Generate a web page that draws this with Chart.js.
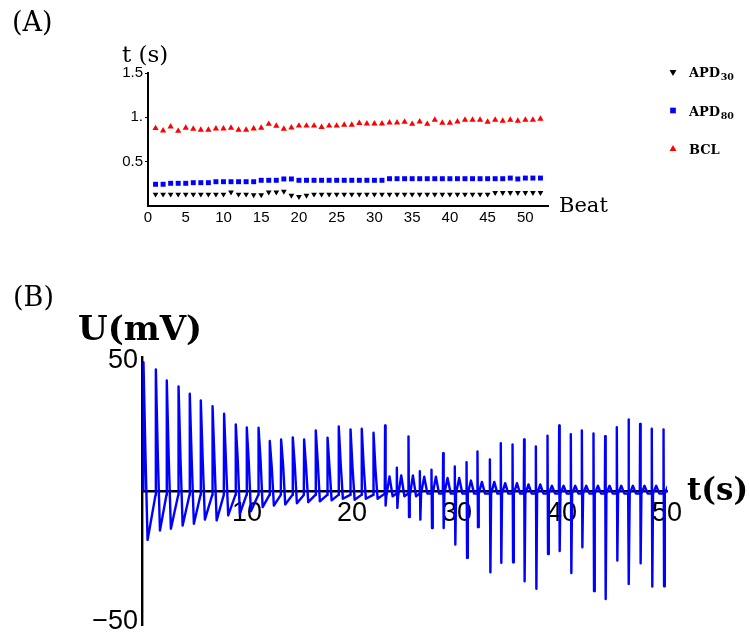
<!DOCTYPE html>
<html>
<head>
<meta charset="utf-8">
<script src="https://cdn.jsdelivr.net/npm/chart.js@4.4.1/dist/chart.umd.min.js"></script>
<style>
  body { margin: 0; background: #fff; overflow: hidden; }
  #wrap { position: relative; width: 750px; height: 639px; }
  #beatChart { position: absolute; left: 0; top: 0; }
  #traceChart { position: absolute; left: 0; top: 280px; }
</style>
</head>
<body>
<div id="wrap">
  <canvas id="beatChart" width="750" height="245"></canvas>
  <canvas id="traceChart" width="750" height="359"></canvas>
</div>
<script>
// (A) action potential durations and cycle length per beat, in seconds
const beatNumbers = [1, 2, 3, 4, 5, 6, 7, 8, 9, 10, 11, 12, 13, 14, 15, 16, 17, 18, 19, 20, 21, 22, 23, 24, 25, 26,
  27, 28, 29, 30, 31, 32, 33, 34, 35, 36, 37, 38, 39, 40, 41, 42, 43, 44, 45, 46, 47, 48, 49, 50, 51, 52];
const apd30 = [0.132, 0.132, 0.132, 0.132, 0.132, 0.132, 0.132, 0.132, 0.132, 0.132, 0.155, 0.132, 0.132,
  0.125, 0.125, 0.155, 0.155, 0.165, 0.12, 0.105, 0.12, 0.132, 0.132, 0.132, 0.132, 0.132, 0.132, 0.132,
  0.132, 0.132, 0.132, 0.132, 0.132, 0.132, 0.132, 0.132, 0.132, 0.132, 0.132, 0.132, 0.132, 0.132, 0.132,
  0.132, 0.132, 0.15, 0.15, 0.15, 0.15, 0.15, 0.15, 0.15];
const apd80 = [0.245, 0.245, 0.256, 0.256, 0.256, 0.263, 0.263, 0.263, 0.274, 0.274, 0.274, 0.274, 0.274,
  0.274, 0.29, 0.29, 0.29, 0.305, 0.305, 0.29, 0.29, 0.29, 0.29, 0.29, 0.29, 0.29, 0.29, 0.29, 0.29, 0.29,
  0.29, 0.308, 0.308, 0.308, 0.308, 0.308, 0.308, 0.308, 0.308, 0.308, 0.308, 0.308, 0.308, 0.308, 0.308,
  0.308, 0.308, 0.315, 0.305, 0.315, 0.315, 0.315];
const bcl = [0.877, 0.85, 0.895, 0.846, 0.88, 0.869, 0.858, 0.858, 0.873, 0.873, 0.88, 0.858, 0.858, 0.873,
  0.88, 0.925, 0.903, 0.869, 0.884, 0.905, 0.905, 0.905, 0.89, 0.905, 0.905, 0.915, 0.915, 0.935, 0.929,
  0.929, 0.929, 0.94, 0.94, 0.948, 0.925, 0.952, 0.925, 0.971, 0.937, 0.937, 0.952, 0.971, 0.971, 0.971,
  0.948, 0.971, 0.959, 0.971, 0.959, 0.971, 0.971, 0.982];
const beatTicks = [0, 5, 10, 15, 20, 25, 30, 35, 40, 45, 50];
const durationTicks = [0.5, 1, 1.5];

// (B) membrane potential trace, one entry per beat
const beatTimes = [0.11, 1.29, 2.33, 3.45, 4.52, 5.57, 6.69, 7.79, 8.9, 9.95, 11.07, 12.14, 13.22, 14.33,
  15.41, 16.52, 17.64, 18.71, 19.83, 20.9, 22.02, 23.12, 24.24, 25.35, 26.43, 27.54, 28.65, 29.76, 30.88,
  31.92, 33.1, 34.14, 35.26, 36.36, 37.48, 38.59, 39.7, 40.81, 41.86, 42.97, 44.08, 45.19, 46.3, 47.41,
  48.52, 49.64];
const restMv = [0, -1.5, -1.5, -1.5, -1.5, -1.5, -1.5, -1.5, -1.5, -1.5, -1.5, -1.5, -1.5, -1.5, -1.5,
  -1.5, -1.5, -1.5, -1.5, -1.5, -1.5, -1, -1, -1, -1, -1, -1, -1, -1, -1, -1, -1, -1, -1, -1, -1, -1, -1,
  -1, -1, -1, -1, -1, -1, -1, -1];
const peakMv = [49.5, 46.7, 42.5, 40.2, 37.4, 34.8, 32.6, 29.7, 25.6, 24.4, 24.3, 19.2, 19.8, 20.6, 19.8,
  23.3, 20.5, 24.8, 23.7, 23.9, 22.4, 25.2, 9.0, 21, 7.6, 8.2, 14.5, 9.4, 11.1, 15.2, 12.1, 18.4, 17.9,
  19.8, 17.1, 21.3, 25.2, 21.8, 23.3, 22.1, 21.1, 24.5, 27.5, 25.8, 23.9, 23.7];
// shoulder after the upstroke (early beats) or the sharp undershoot (later beats)
const downMv = [14, 13, 12, 12, 11, 11, 11, 10, 12, 11, 12, 9, 10, 10, 9, 11, 9, 10, 9, 9, 8,
  -5.6, -6.5, -10, -11, -14.2, -14.2, -20.6, -25.7, -13.9, -31.2, -27.6, -27.4, -34.7, -37.6, -24.2,
  -23.1, -31.5, -21.6, -38.5, -41.5, -26.7, -35.7, -27.8, -36.7, -36.6];
const dipMv = [-18.8, -15.2, -14.5, -13.3, -12.6, -11, -11.3, -9.4, -8.8, -7.8, -6.2, -5.6, -5.2, -4.7,
  -4.3, -4.0, -3.6, -3.0, -3.4, -3.0, -3.0, -2, -2, -2, -1, -1, -1, -1, -1, -1, -1, -1, -1, -1, -1, -1,
  -1, -1, -1, -1, -1, -1, -1, -1, -1, -1];
const humpMv = [null, null, null, null, null, null, null, null, null, null, null, null, null, null, null,
  null, null, null, null, null, null, 5.6, 6, 6, 5.5, 5.5, 5, 5, 4, 3.5, 3.5, 3, 3, 2.5, 2.5, 2, 2, 2, 2,
  2, 2, 2, 2, 2, 2, 2];
const timeTicks = [10, 20, 30, 40, 50];
const voltageTicks = [-50, 50];

const tickFont = { family: 'Liberation Sans', size: 15 };
const bigTickFont = { family: 'Liberation Sans', size: 27 };

// free text drawn on top of each panel
const textPlugin = {
  id: 'panelText',
  afterDraw(chart, args, opts) {
    const ctx = chart.ctx;
    ctx.save();
    ctx.fillStyle = '#000';
    ctx.textAlign = 'left';
    ctx.textBaseline = 'alphabetic';
    (opts.items || []).forEach(item => {
      ctx.font = item.font;
      ctx.fillText(item.text, item.x, item.y);
    });
    ctx.restore();
  }
};

// marker legend with subscripted labels
const markerLegend = {
  id: 'markerLegend',
  afterDraw(chart, args, opts) {
    if (!opts.show) return;
    const ctx = chart.ctx;
    ctx.save();
    chart.data.datasets.forEach((ds, i) => {
      const y = opts.top + i * opts.spacing;
      ctx.fillStyle = ds.backgroundColor;
      ctx.strokeStyle = ds.backgroundColor;
      Chart.helpers.drawPoint(ctx, {
        pointStyle: ds.pointStyle,
        rotation: ds.pointRotation || 0,
        radius: 4,
        borderWidth: 0
      }, opts.x, y);
      const m = ds.label.match(/^(\D+)(\d*)$/);
      ctx.fillStyle = '#000';
      ctx.textBaseline = 'alphabetic';
      ctx.font = 'bold 13px "DejaVu Serif"';
      ctx.fillText(m[1], opts.x + 16, y + 5);
      if (m[2]) {
        const w = ctx.measureText(m[1]).width;
        ctx.font = 'bold 9.5px "DejaVu Serif"';
        ctx.fillText(m[2], opts.x + 16 + w + 0.5, y + 8);
      }
    });
    ctx.restore();
  }
};

const toPoints = values => beatNumbers.map((b, i) => ({ x: b, y: values[i] }));

new Chart(document.getElementById('beatChart'), {
  type: 'scatter',
  data: {
    datasets: [
      { label: 'APD30', data: toPoints(apd30), pointStyle: 'triangle', pointRotation: 180,
        backgroundColor: '#000000', borderColor: '#000000', pointRadius: 3.3, pointBorderWidth: 0 },
      { label: 'APD80', data: toPoints(apd80), pointStyle: 'rect',
        backgroundColor: '#0000ff', borderColor: '#0000ff', pointRadius: 3.5, pointBorderWidth: 0 },
      { label: 'BCL', data: toPoints(bcl), pointStyle: 'triangle',
        backgroundColor: '#ff0000', borderColor: '#ff0000', pointRadius: 3.6, pointBorderWidth: 0 }
    ]
  },
  options: {
    responsive: false,
    animation: false,
    layout: { padding: { left: 0, top: 73, right: 202, bottom: 0 } },
    plugins: {
      legend: { display: false },
      tooltip: { enabled: false },
      panelText: {
        items: [
          { text: '(A)', x: 12, y: 31, font: '27px "DejaVu Serif"' },
          { text: 't (s)', x: 122, y: 62, font: '23px "DejaVu Serif"' },
          { text: 'Beat', x: 559, y: 212, font: '21px "DejaVu Serif"' }
        ]
      },
      markerLegend: { show: true, x: 673, top: 72, spacing: 38.5 }
    },
    scales: {
      x: {
        type: 'linear', min: 0, max: 53,
        afterFit: s => { s.height = 39; },
        afterBuildTicks: s => { s.ticks = beatTicks.map(v => ({ value: v })); },
        grid: { display: false, drawTicks: false },
        border: { display: true, color: '#000', width: 2 },
        ticks: { font: tickFont, color: '#000', padding: 3, maxRotation: 0, autoSkip: false }
      },
      y: {
        type: 'linear', min: 0, max: 1.5,
        afterFit: s => { s.width = 148; s.paddingTop = 0; s.paddingBottom = 0; },
        afterBuildTicks: s => { s.ticks = durationTicks.map(v => ({ value: v })); },
        grid: { display: true, drawOnChartArea: false, drawTicks: true, tickLength: 3, color: '#000', lineWidth: 1 },
        border: { display: true, color: '#000', width: 2 },
        ticks: { font: tickFont, color: '#000', padding: 2, callback: v => (v === 1 ? '1.' : String(v)) }
      }
    }
  },
  plugins: [textPlugin, markerLegend]
});

// polyline of the voltage trace, built beat by beat
const tracePoints = [];
beatTimes.forEach((t, i) => {
  const late = humpMv[i] !== null;
  tracePoints.push({ x: t, y: restMv[i] });
  tracePoints.push({ x: t + 0.03, y: peakMv[i] });
  tracePoints.push({ x: t + (late ? 0.08 : 0.22), y: downMv[i] });
  tracePoints.push({ x: t + (late ? 0.15 : 0.42), y: dipMv[i] });
  if (late) {
    tracePoints.push({ x: t + 0.45, y: humpMv[i] });
    tracePoints.push({ x: t + 0.75, y: dipMv[i] });
  }
});

new Chart(document.getElementById('traceChart'), {
  type: 'scatter',
  data: {
    datasets: [{
      label: 'U',
      data: tracePoints,
      showLine: true,
      borderColor: '#0000ff',
      borderWidth: 2.4,
      borderJoinStyle: 'round',
      pointRadius: 0,
      tension: 0
    }]
  },
  options: {
    responsive: false,
    animation: false,
    layout: { padding: { left: 0, top: 77, right: 83, bottom: 14 } },
    plugins: {
      legend: { display: false },
      tooltip: { enabled: false },
      panelText: {
        items: [
          { text: '(B)', x: 13, y: 26, font: '27px "DejaVu Serif"' },
          { text: 'U(mV)', x: 78, y: 60, font: 'bold 34px "DejaVu Serif"' },
          { text: 't(s)', x: 687, y: 220, font: 'bold 31px "DejaVu Serif"' }
        ]
      },
      markerLegend: { show: false }
    },
    scales: {
      x: {
        type: 'linear', min: 0, max: 50,
        position: { y: 0 },
        z: 1,
        afterFit: s => { s.height = 0; s.paddingLeft = 0; s.paddingRight = 0; },
        afterBuildTicks: s => { s.ticks = timeTicks.map(v => ({ value: v })); },
        grid: { display: false, drawTicks: false },
        border: { display: true, color: '#000', width: 2.6 },
        ticks: { font: bigTickFont, color: '#000', padding: 6, maxRotation: 0, autoSkip: false }
      },
      y: {
        type: 'linear', min: -51.5, max: 51.5,
        position: 'left',
        afterFit: s => { s.width = 142; s.paddingTop = 0; s.paddingBottom = 0; },
        afterBuildTicks: s => { s.ticks = voltageTicks.map(v => ({ value: v })); },
        grid: { display: false, drawTicks: false },
        border: { display: true, color: '#000', width: 2.4 },
        ticks: { font: bigTickFont, color: '#000', padding: 4, callback: v => (v < 0 ? '\u2212' + Math.abs(v) : String(v)) }
      }
    }
  },
  plugins: [textPlugin, markerLegend]
});
</script>
</body>
</html>
